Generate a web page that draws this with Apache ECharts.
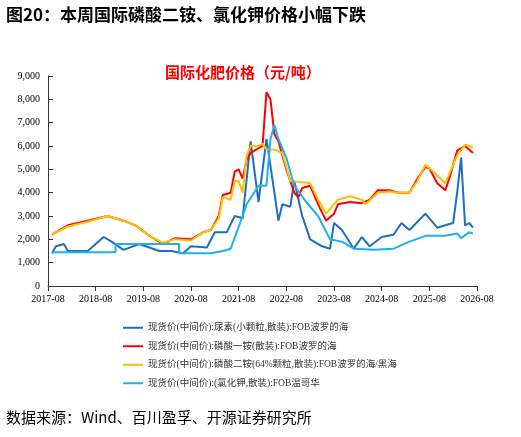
<!DOCTYPE html>
<html><head><meta charset="utf-8">
<script src="https://cdn.jsdelivr.net/npm/echarts@6/dist/echarts.min.js"></script>
<style>html,body{margin:0;padding:0;background:#fff}#main{width:521px;height:437px}</style>
</head><body><div id="main"></div>
<script>
var yTicks = [0, 1000, 2000, 3000, 4000, 5000, 6000, 7000, 8000, 9000];
var seriesNames = [
  '现货价(中间价):尿素(小颗粒,散装):FOB波罗的海',
  '现货价(中间价):磷酸一铵(散装):FOB波罗的海',
  '现货价(中间价):磷酸二铵(64%颗粒,散装):FOB波罗的海/黑海',
  '现货价(中间价):(氯化钾,散装):FOB温哥华'
];
var colors = ['#1f6fbf', '#ff0000', '#ffc000', '#1fb0ef'];
// [年月, 值]
var urea = [['2017-09',1400],['2017-10',1700],['2017-12',1800],['2018-01',1500],['2018-06',1500],['2018-08',1800],['2018-10',2100],['2018-12',1900],['2019-03',1550],['2019-07',1800],['2019-12',1500],['2020-03',1500],['2020-06',1400],['2020-08',1700],['2020-12',1650],['2021-02',2300],['2021-05',2300],['2021-07',3000],['2021-09',2900],['2021-11',6200],['2022-01',3600],['2022-03',6300],['2022-05',4000],['2022-06',2800],['2022-07',3500],['2022-09',3400],['2022-10',4500],['2022-12',3000],['2023-02',2000],['2023-05',1700],['2023-07',1600],['2023-08',2700],['2023-10',2400],['2024-01',1600],['2024-03',2100],['2024-05',1700],['2024-08',2100],['2024-11',2200],['2025-01',2700],['2025-03',2400],['2025-07',3100],['2025-10',2500],['2025-12',2600],['2026-02',2700],['2026-03',4000],['2026-04',5500],['2026-05',2600],['2026-06',2700],['2026-07',2500]];
var map = [['2017-09',2200],['2018-01',2600],['2018-06',2800],['2018-11',3000],['2019-03',2800],['2019-06',2600],['2019-10',2100],['2020-01',1800],['2020-04',2050],['2020-08',2000],['2020-11',2300],['2021-01',2400],['2021-03',3000],['2021-04',3900],['2021-06',4000],['2021-07',4900],['2021-08',5000],['2021-09',4600],['2021-10',5400],['2021-11',5700],['2021-12',5800],['2022-02',6000],['2022-03',8300],['2022-04',8000],['2022-05',6500],['2022-06',6200],['2022-08',5000],['2022-10',4000],['2022-11',3800],['2022-12',4200],['2023-02',4300],['2023-04',3500],['2023-06',2800],['2023-08',3100],['2023-09',3500],['2023-12',3600],['2024-03',3550],['2024-05',3700],['2024-07',4100],['2024-10',4100],['2024-12',4000],['2025-03',4000],['2025-05',4600],['2025-07',5100],['2025-08',5050],['2025-10',4400],['2025-12',4100],['2026-01',4600],['2026-03',5800],['2026-05',6000],['2026-07',5700]];
var dap = [['2017-09',2200],['2018-01',2550],['2018-06',2750],['2018-11',3000],['2019-03',2800],['2019-06',2600],['2019-10',2100],['2020-01',1850],['2020-04',2000],['2020-08',1950],['2020-11',2300],['2021-01',2400],['2021-03',2900],['2021-04',3800],['2021-06',3700],['2021-07',4500],['2021-08',4500],['2021-09',4000],['2021-10',5600],['2021-11',6000],['2022-01',6000],['2022-02',6100],['2022-03',5850],['2022-05',5850],['2022-07',5700],['2022-09',4500],['2022-12',4450],['2023-02',4400],['2023-04',3700],['2023-06',3100],['2023-09',3700],['2023-12',3850],['2024-03',3700],['2024-04',3500],['2024-07',4000],['2024-10',4050],['2024-12',4000],['2025-03',4000],['2025-05',4500],['2025-07',5200],['2025-09',4900],['2025-12',4400],['2026-03',5600],['2026-05',6050],['2026-07',5950]];
var potash = [['2017-09',1450],['2019-01',1450],['2019-01',1800],['2020-05',1800],['2020-05',1400],['2021-01',1400],['2021-04',1500],['2021-06',1600],['2021-09',3000],['2021-10',3500],['2022-01',4300],['2022-03',4300],['2022-04',6300],['2022-05',6900],['2022-06',6300],['2022-08',5500],['2022-10',4300],['2023-01',3600],['2023-04',3000],['2023-07',2000],['2023-10',1900],['2024-01',1600],['2024-06',1550],['2024-11',1600],['2025-03',1900],['2025-07',2150],['2025-12',2150],['2026-03',2250],['2026-04',2050],['2026-06',2300],['2026-07',2250]];

function toIdx(s) {
  var p = s.split('-');
  return (parseInt(p[0]) - 2017) * 12 + parseInt(p[1]) - 8;
}
function conv(arr) {
  return arr.map(function (d) { return [toIdx(d[0]), d[1]]; });
}
var allData = [urea, map, dap, potash];

var chart = echarts.init(document.getElementById('main'));
var fontSerif = '"Times New Roman","Liberation Serif","Noto Sans CJK SC",serif';
chart.setOption({
  animation: false,
  graphic: [
    {type: 'text', left: 6, top: 6, style: {text: '图20：本周国际磷酸二铵、氯化钾价格小幅下跌', font: 'bold 17px "Noto Sans CJK SC"', fill: '#000'}},
    {type: 'text', left: 6, top: 410, style: {text: '数据来源：Wind、百川盈孚、开源证券研究所', font: '15px "Noto Sans CJK SC"', fill: '#000'}}
  ],
  title: {
    text: '国际化肥价格（元/吨）', left: 160, top: 60,
    textStyle: {color: '#ff0000', fontSize: 15, fontWeight: 'bold', fontFamily: 'Noto Sans CJK SC'}
  },
  legend: {
    orient: 'vertical', left: 118, top: 318, itemGap: 9, itemWidth: 20, itemHeight: 2,
    icon: 'rect', data: seriesNames,
    textStyle: {fontSize: 9.5, color: '#333', fontFamily: fontSerif}
  },
  grid: {left: 48, right: 44, top: 76, bottom: 151},
  xAxis: {
    type: 'value', min: 0, max: 108, interval: 12,
    axisLine: {lineStyle: {color: '#333'}},
    axisTick: {show: true, lineStyle: {color: '#333'}},
    splitLine: {show: false},
    axisLabel: {
      color: '#000', fontSize: 10, fontFamily: fontSerif,
      formatter: function (v) { return (2017 + v / 12) + '-08'; }
    }
  },
  yAxis: {
    type: 'value', min: yTicks[0], max: yTicks[yTicks.length - 1], interval: 1000,
    axisLine: {show: true, lineStyle: {color: '#333'}},
    axisTick: {show: true, inside: true, lineStyle: {color: '#333'}},
    splitLine: {show: false},
    axisLabel: {
      color: '#000', fontSize: 10, fontFamily: fontSerif,
      formatter: function (v) { return v.toLocaleString('en-US'); }
    }
  },
  series: allData.map(function (d, i) {
    return {
      name: seriesNames[i], type: 'line', data: conv(d), symbol: 'none',
      lineStyle: {width: 2, color: colors[i]}, itemStyle: {color: colors[i]}
    };
  })
});
</script></body></html>
